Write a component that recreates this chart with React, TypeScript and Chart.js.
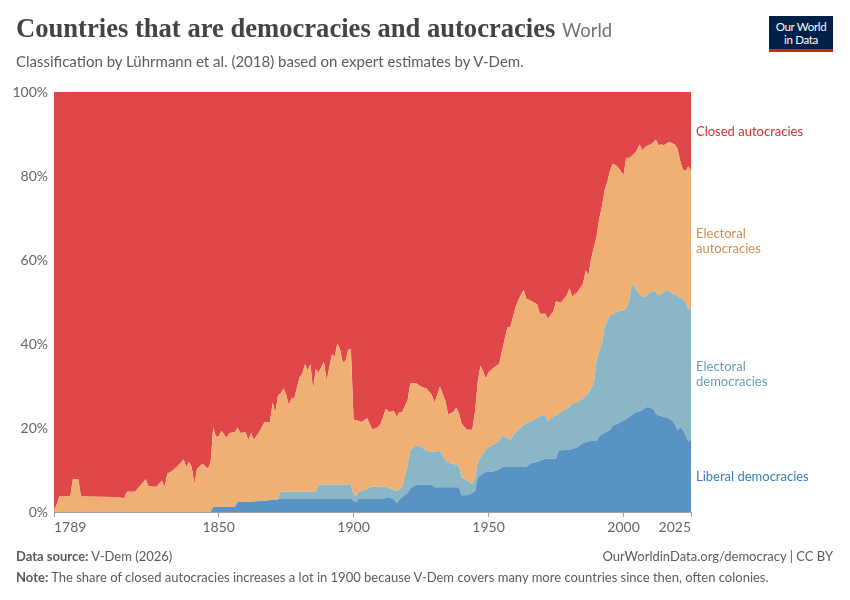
import { useEffect, useRef } from "react"
import { Chart, registerables } from "chart.js"

Chart.register(...registerables)

// years with a reading, and the share (%) of countries in each regime type
const years = [
  1789, 1790, 1791, 1795, 1796, 1798, 1799, 1812, 1815, 1816,
  1819, 1821, 1823, 1824, 1827, 1829, 1830, 1831, 1833, 1835,
  1837, 1838, 1839, 1840, 1841, 1842, 1844, 1846, 1847, 1848,
  1849, 1850, 1851, 1853, 1854, 1856, 1857, 1858, 1860, 1861,
  1862, 1863, 1865, 1867, 1869, 1870, 1871, 1872, 1873, 1874,
  1875, 1876, 1877, 1878, 1880, 1881, 1882, 1883, 1884, 1885,
  1886, 1887, 1889, 1890, 1892, 1893, 1894, 1895, 1896, 1897,
  1898, 1899, 1900, 1901, 1902, 1903, 1905, 1907, 1909, 1910,
  1912, 1913, 1915, 1916, 1917, 1918, 1920, 1921, 1923, 1925,
  1927, 1929, 1930, 1932, 1934, 1935, 1937, 1938, 1939, 1940,
  1942, 1944, 1945, 1946, 1947, 1948, 1949, 1950, 1952, 1954,
  1955, 1957, 1958, 1960, 1961, 1963, 1964, 1966, 1968, 1969,
  1971, 1972, 1974, 1975, 1976, 1977, 1979, 1980, 1981, 1983,
  1985, 1986, 1987, 1988, 1989, 1990, 1991, 1992, 1993, 1994,
  1995, 1996, 1997, 1998, 1999, 2000, 2001, 2002, 2003, 2004,
  2005, 2006, 2007, 2008, 2009, 2010, 2011, 2012, 2013, 2014,
  2015, 2016, 2017, 2018, 2019, 2020, 2021, 2022, 2023, 2024,
  2025,
]

const liberalDemocracies = [
  0, 0, 0, 0, 0, 0, 0, 0, 0, 0,
  0, 0, 0, 0, 0, 0, 0, 0, 0, 0,
  0, 0, 0, 0, 0, 0, 0, 0, 0, 1.2,
  1.2, 1.2, 1.2, 1.2, 1.2, 1.2, 2.4, 2.4, 2.4, 2.4,
  2.4, 2.5, 2.6, 2.7, 2.8, 2.9, 2.9, 3.0, 3.2, 3.2,
  3.2, 3.2, 3.2, 3.2, 3.2, 3.2, 3.2, 3.2, 3.2, 3.2,
  3.2, 3.2, 3.2, 3.2, 3.2, 3.2, 3.2, 3.2, 3.2, 3.2,
  3.2, 3.2, 2.6, 2.4, 3.2, 3.2, 3.2, 3.2, 3.2, 3.2,
  3.3, 3.6, 3.0, 2.1, 3.0, 3.6, 4.5, 5.6, 6.5, 6.5,
  6.5, 6.5, 5.9, 5.9, 5.9, 5.9, 5.9, 5.9, 5.9, 4.0,
  4.0, 4.5, 5.0, 8.3, 8.7, 9.2, 9.5, 9.5, 9.7, 10.2,
  10.7, 10.7, 10.7, 10.7, 10.7, 10.8, 10.8, 11.7, 11.9, 12.2,
  12.7, 12.7, 12.7, 12.7, 14.7, 14.7, 14.8, 14.8, 15.0, 15.5,
  16.4, 16.6, 16.8, 17.1, 17.0, 17.0, 17.9, 18.5, 18.8, 19.2,
  19.5, 20.6, 20.8, 21.0, 21.5, 21.7, 22.1, 22.6, 23.0, 23.6,
  23.8, 24.0, 24.2, 24.8, 25.0, 24.8, 24.5, 23.4, 23.0, 22.8,
  22.6, 22.5, 22.2, 21.7, 21.0, 19.4, 20.2, 19.5, 18.3, 16.8,
  17.2,
]

const electoralDemocracies = [
  0, 0, 0, 0, 0, 0, 0, 0, 0, 0,
  0, 0, 0, 0, 0, 0, 0, 0, 0, 0,
  0, 0, 0, 0, 0, 0, 0, 0, 0, 0,
  0, 0, 0, 0, 0, 0, 0, 0, 0, 0,
  0, 0, 0, 0, 0, 0, 0, 0, 1.6, 1.6,
  1.6, 1.6, 1.6, 1.6, 1.6, 1.6, 1.6, 1.6, 1.6, 1.6,
  1.6, 3.3, 3.3, 3.3, 3.3, 3.3, 3.3, 3.3, 3.3, 3.3,
  3.3, 3.3, 1.4, 1.6, 1.6, 1.8, 2.3, 2.9, 2.9, 2.8,
  2.7, 2.2, 2.2, 2.9, 2.5, 2.5, 6.6, 9.1, 9.4, 9.1,
  8.0, 7.9, 8.5, 8.6, 6.4, 5.8, 5.6, 5.3, 5.1, 4.3,
  3.5, 2.1, 3.0, 3.6, 4.3, 4.8, 5.3, 6.0, 6.3, 6.8,
  7.6, 6.9, 6.5, 8.3, 8.9, 9.9, 10.4, 9.9, 10.5, 10.6,
  10.2, 9.0, 10.1, 10.3, 8.7, 9.1, 9.8, 10.2, 10.8, 10.7,
  10.6, 11.2, 11.5, 12.4, 13.6, 19.1, 20.6, 21.6, 25.2, 26.3,
  27.3, 26.6, 26.6, 26.7, 26.5, 26.3, 26.4, 27.2, 31.0, 30.4,
  28.7, 28.0, 27.0, 26.4, 26.8, 27.6, 28.1, 28.9, 28.6, 29.2,
  29.8, 30.4, 30.2, 30.3, 30.8, 32.1, 30.8, 31.3, 31.5, 31.4,
  31.6,
]

const electoralAutocracies = [
  0.5, 1.7, 3.7, 3.7, 7.8, 7.8, 3.7, 3.6, 3.3, 4.8,
  4.8, 6.3, 7.8, 6.1, 6.0, 7.5, 6.0, 9.1, 9.9, 11.1,
  12.5, 10.7, 11.9, 10.7, 6.6, 10.3, 11.5, 10.3, 11.7, 18.9,
  16.7, 16.8, 18.1, 16.5, 17.6, 17.8, 17.7, 16.4, 16.6, 14.7,
  16.4, 14.7, 16.4, 18.7, 18.6, 23.1, 20.7, 24.8, 23.4, 24.6,
  23.2, 20.6, 22.4, 22.2, 27.3, 28.1, 30.4, 28.9, 30.4, 24.2,
  29.3, 26.7, 29.2, 24.8, 31.0, 30.5, 33.6, 32.2, 29.0, 29.5,
  32.2, 32.2, 17.7, 17.9, 16.8, 16.4, 16.8, 13.5, 14.1, 15.0,
  18.6, 18.0, 18.8, 17.6, 18.3, 17.7, 15.5, 15.9, 14.8, 14.2,
  14.9, 13.4, 11.6, 15.3, 14.1, 11.5, 12.3, 13.6, 12.6, 12.7,
  12.1, 13.0, 16.0, 19.1, 21.9, 19.5, 16.9, 17.8, 18.4, 18.3,
  20.2, 26.3, 26.7, 29.7, 30.8, 32.2, 29.6, 28.6, 27.0, 24.4,
  24.3, 24.3, 25.0, 27.2, 26.6, 26.2, 27.0, 28.2, 25.5, 26.2,
  27.4, 29.7, 28.1, 30.8, 32.4, 29.5, 31.3, 32.7, 32.6, 33.0,
  34.5, 35.7, 35.2, 34.3, 33.2, 32.2, 35.9, 34.4, 30.8, 31.3,
  33.7, 35.5, 34.9, 35.7, 35.4, 35.1, 35.4, 36.4, 35.7, 35.5,
  34.9, 34.9, 35.7, 35.8, 35.7, 35.0, 32.6, 30.7, 31.4, 34.1,
  32.4,
]

const closedAutocracies = [
  99.5, 98.3, 96.3, 96.3, 92.2, 92.2, 96.3, 96.4, 96.7, 95.2,
  95.2, 93.7, 92.2, 93.9, 94.0, 92.5, 94.0, 90.9, 90.1, 88.9,
  87.5, 89.3, 88.1, 89.3, 93.4, 89.7, 88.5, 89.7, 88.3, 79.9,
  82.1, 82.0, 80.7, 82.3, 81.2, 81.0, 79.9, 81.2, 81.0, 82.9,
  81.2, 82.8, 81.0, 78.6, 78.6, 74.0, 76.4, 72.2, 71.8, 70.6,
  72.0, 74.6, 72.8, 73.0, 67.9, 67.1, 64.8, 66.3, 64.8, 71.0,
  65.9, 66.8, 64.3, 68.7, 62.5, 63.0, 59.9, 61.3, 64.5, 64.0,
  61.3, 61.3, 78.3, 78.1, 78.4, 78.6, 77.7, 80.4, 79.8, 79.0,
  75.4, 76.2, 76.0, 77.4, 76.2, 76.2, 73.4, 69.4, 69.3, 70.2,
  70.6, 72.2, 74.0, 70.2, 73.6, 76.8, 76.2, 75.2, 76.4, 79.0,
  80.4, 80.4, 76.0, 69.0, 65.1, 66.5, 68.3, 66.7, 65.6, 64.7,
  61.5, 56.1, 56.1, 51.3, 49.6, 47.1, 49.2, 49.8, 50.6, 52.8,
  52.8, 54.0, 52.2, 49.8, 50.0, 50.0, 48.4, 46.8, 48.7, 47.6,
  45.6, 42.5, 43.6, 39.7, 37.0, 34.4, 30.2, 27.2, 23.4, 21.5,
  18.7, 17.1, 17.4, 18.0, 18.8, 19.8, 15.6, 15.8, 15.2, 14.7,
  13.8, 12.5, 13.9, 13.1, 12.8, 12.5, 12.0, 11.3, 12.7, 12.5,
  12.7, 12.2, 11.9, 12.2, 12.5, 13.5, 16.4, 18.5, 18.8, 17.7,
  18.8,
]

const xTicks = [1789, 1850, 1900, 1950, 2000, 2025]
const yTicks = [0, 20, 40, 60, 80, 100]

const font = "Lato, 'Noto Sans', sans-serif"

const series = [
  { name: "Liberal democracies", values: liberalDemocracies, fill: "#5893c4", text: "#3b7dba" },
  { name: "Electoral democracies", values: electoralDemocracies, fill: "#8ab6c6", text: "#6a9db3" },
  { name: "Electoral autocracies", values: electoralAutocracies, fill: "#f0b073", text: "#d08e4e" },
  { name: "Closed autocracies", values: closedAutocracies, fill: "#e0474b", text: "#d62f35" },
]

function AreaChart() {
  const chartRef = useRef<HTMLCanvasElement | null>(null)
  const chartInstance = useRef<Chart | null>(null)

  useEffect(() => {
    if (!chartRef.current) return
    const ctx = chartRef.current.getContext("2d")
    if (!ctx) return

    chartInstance.current = new Chart(ctx, {
      type: "line",
      data: {
        datasets: series.map((s, i) => ({
          label: s.name,
          data: years.map((year, j) => ({ x: year, y: s.values[j] })),
          backgroundColor: s.fill,
          borderWidth: 0,
          pointRadius: 0,
          tension: 0,
          fill: i === 0 ? "origin" : "-1",
        })),
      },
      options: {
        animation: false,
        responsive: false,
        devicePixelRatio: 1,
        layout: { padding: { top: 92, right: 159, left: 0, bottom: 0 } },
        plugins: {
          legend: { display: false },
          tooltip: { enabled: false },
        },
        scales: {
          x: {
            type: "linear",
            min: 1789,
            max: 2025,
            z: 1,
            afterBuildTicks: (scale) => {
              scale.ticks = xTicks.map((value) => ({ value }))
            },
            afterFit: (scale) => {
              scale.height = 88
            },
            border: { display: true, color: "#a1a1a1", width: 1 },
            grid: {
              drawOnChartArea: false,
              drawTicks: true,
              tickLength: 5,
              color: "#a1a1a1",
            },
            ticks: {
              autoSkip: false,
              maxRotation: 0,
              align: "inner",
              padding: 2,
              color: "#666666",
              font: { family: font, size: 14 },
              callback: (value) => String(value),
            },
          },
          y: {
            stacked: true,
            min: 0,
            max: 100,
            z: 1,
            afterBuildTicks: (scale) => {
              scale.ticks = yTicks.map((value) => ({ value }))
            },
            afterFit: (scale) => {
              scale.width = 54
            },
            border: { display: false, dash: [4, 3] },
            grid: {
              drawTicks: false,
              color: (c) => (c.tick.value === 0 ? "rgba(0,0,0,0)" : "rgba(0,0,0,0.07)"),
            },
            ticks: {
              padding: 6,
              color: "#666666",
              font: { family: font, size: 14 },
              callback: (value) => `${value}%`,
            },
          },
        },
      },
    })

    return () => {
      if (chartInstance.current) {
        chartInstance.current.destroy()
      }
    }
  }, [])

  return <canvas ref={chartRef} width={850} height={600} style={{ position: "absolute", left: 0, top: 0 }} />
}

export default function App() {
  const labelStyle = (top: number, color: string) => ({
    position: "absolute" as const,
    left: 696,
    top,
    color,
    fontFamily: font,
    fontSize: 13,
    lineHeight: "15px",
  })

  return (
    <div style={{ position: "absolute", left: 0, top: 0, width: 850, height: 600, background: "#fff", overflow: "hidden" }}>
      <AreaChart />
      <div
        style={{
          position: "absolute",
          left: 16,
          top: 13,
          whiteSpace: "nowrap",
          fontFamily: "'Liberation Serif', serif",
          fontWeight: 700,
          fontSize: 26.6,
          color: "#444444",
        }}
      >
        Countries that are democracies and autocracies{" "}
        <span style={{ fontFamily: font, fontWeight: 400, fontSize: 18.5, color: "#727272" }}>World</span>
      </div>
      <div
        style={{
          position: "absolute",
          left: 16,
          top: 52,
          fontFamily: font,
          fontSize: 15,
          color: "#5b5b5b",
          whiteSpace: "nowrap",
        }}
      >
        Classification by Lührmann et al. (2018) based on expert estimates by V-Dem.
      </div>
      <div
        style={{
          position: "absolute",
          left: 769,
          top: 16,
          width: 64,
          height: 33,
          background: "#002147",
          borderBottom: "3px solid #ce261e",
          color: "#fff",
          fontFamily: font,
          fontSize: 11.5,
          lineHeight: "13px",
          textAlign: "center",
          display: "flex",
          flexDirection: "column",
          justifyContent: "center",
          letterSpacing: -0.3,
        }}
      >
        <div>Our World</div>
        <div>in Data</div>
      </div>

      <div style={labelStyle(124, series[3].text)}>Closed autocracies</div>
      <div style={labelStyle(226, series[2].text)}>
        Electoral
        <br />
        autocracies
      </div>
      <div style={labelStyle(359, series[1].text)}>
        Electoral
        <br />
        democracies
      </div>
      <div style={labelStyle(469, series[0].text)}>Liberal democracies</div>

      <div
        style={{
          position: "absolute",
          left: 16,
          top: 548,
          fontFamily: font,
          fontSize: 13,
          color: "#5b5b5b",
        }}
      >
        <b>Data source:</b> V-Dem (2026)
      </div>
      <div
        style={{
          position: "absolute",
          right: 17,
          top: 548,
          fontFamily: font,
          fontSize: 13,
          color: "#5b5b5b",
        }}
      >
        OurWorldinData.org/democracy | CC BY
      </div>
      <div
        style={{
          position: "absolute",
          left: 16,
          top: 569,
          fontFamily: font,
          fontSize: 13,
          color: "#5b5b5b",
          whiteSpace: "nowrap",
        }}
      >
        <b>Note:</b> The share of closed autocracies increases a lot in 1900 because V-Dem covers many more countries
        since then, often colonies.
      </div>
    </div>
  )
}
